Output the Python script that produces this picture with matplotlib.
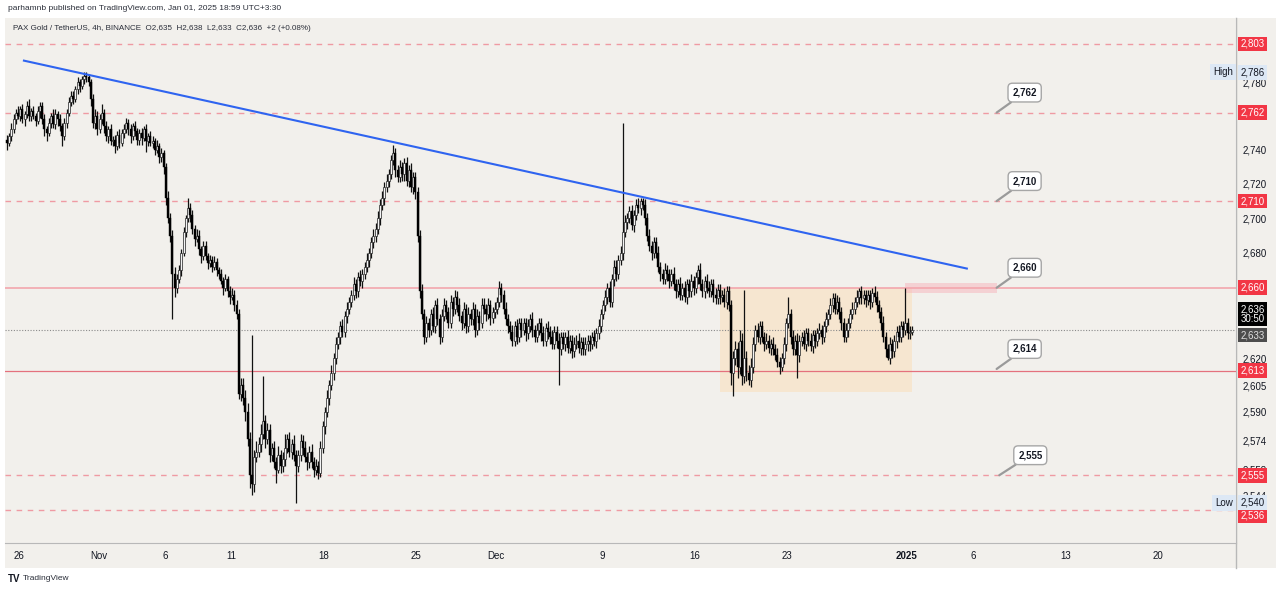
import matplotlib
matplotlib.use("Agg")
import matplotlib.pyplot as plt
import numpy as np
from matplotlib.patches import Rectangle
from matplotlib.ticker import NullLocator, FixedLocator, FuncFormatter

plt.rcParams["font.family"] = ["Liberation Sans", "DejaVu Sans"]

# 4h PAXG/USDT closes, Oct 25 2024 00:00 -> Jan 1 2025 12:00 (one row per day)
first_open = 2746
closes = [
    2744, 2748, 2752, 2758, 2762, 2760,
    2764, 2758, 2761, 2766, 2760, 2763,
    2760, 2757, 2763, 2766, 2758, 2752,
    2750, 2756, 2760, 2755, 2761, 2758,
    2754, 2748, 2756, 2762, 2768, 2772,
    2770, 2776, 2780, 2778, 2782, 2784,
    2783, 2780, 2770, 2756, 2760, 2752,
    2758, 2762, 2754, 2748, 2752, 2745,
    2746, 2742, 2749, 2744, 2750, 2752,
    2756, 2752, 2748, 2754, 2751, 2746,
    2750, 2747, 2752, 2745, 2748, 2744,
    2745, 2740, 2742, 2736, 2738, 2730,
    2712, 2700, 2690, 2668, 2660, 2665,
    2670, 2680, 2692, 2700, 2706, 2702,
    2694, 2688, 2690, 2682, 2678, 2684,
    2678, 2674, 2676, 2672, 2675, 2670,
    2668, 2664, 2660, 2665, 2658, 2655,
    2656, 2650, 2645, 2600, 2605, 2598,
    2590, 2575, 2555, 2550, 2565, 2568,
    2572, 2578, 2585, 2575, 2580, 2566,
    2570, 2562, 2558, 2566, 2560, 2564,
    2570, 2575, 2568, 2572, 2566, 2560,
    2566, 2574, 2570, 2565, 2562, 2568,
    2562, 2558, 2560, 2556, 2570, 2582,
    2590, 2598, 2605, 2612, 2620, 2628,
    2632, 2638, 2635, 2644, 2648, 2652,
    2656, 2662, 2658, 2666, 2664, 2668,
    2672, 2676, 2680, 2686, 2690, 2694,
    2700, 2708, 2712, 2718, 2722, 2726,
    2734, 2738, 2728, 2724, 2730, 2726,
    2732, 2722, 2728, 2718, 2724, 2715,
    2690, 2658, 2645, 2632, 2640, 2636,
    2645, 2638, 2650, 2642, 2632, 2644,
    2650, 2646, 2640, 2652, 2648, 2655,
    2650, 2644, 2640, 2648, 2638, 2645,
    2642, 2648, 2636, 2644, 2640, 2650,
    2648, 2645, 2650, 2643, 2646, 2648,
    2652, 2660, 2656, 2648, 2642, 2638,
    2635, 2630, 2638, 2632, 2640, 2636,
    2640, 2634, 2638, 2642, 2636, 2632,
    2636, 2640, 2634, 2630, 2637, 2635,
    2632, 2628, 2635, 2630, 2625, 2632,
    2628, 2632, 2626, 2630, 2624, 2628,
    2630, 2626, 2629, 2625, 2628, 2630,
    2628, 2632, 2630, 2634, 2638, 2645,
    2650, 2655, 2660, 2652, 2665, 2672,
    2668, 2676, 2680, 2692, 2698, 2700,
    2704, 2696, 2702, 2708, 2706, 2710,
    2708, 2700, 2690, 2684, 2680, 2686,
    2680, 2672, 2668, 2665, 2670, 2668,
    2664, 2668, 2662, 2658, 2662, 2656,
    2660, 2655, 2662, 2658, 2664, 2660,
    2666, 2670, 2662, 2658, 2664, 2660,
    2658, 2662, 2656, 2654, 2659, 2655,
    2656, 2652, 2658, 2650, 2612, 2620,
    2625, 2615, 2630, 2610, 2620, 2612,
    2608, 2615, 2628, 2636, 2632, 2638,
    2632, 2628, 2630, 2626, 2628, 2625,
    2622, 2618, 2615, 2620, 2628, 2640,
    2645, 2632, 2625, 2630, 2622, 2630,
    2632, 2628, 2634, 2630, 2627, 2633,
    2630, 2634, 2636, 2632, 2638, 2642,
    2645, 2650, 2654, 2648, 2652, 2646,
    2640, 2632, 2636, 2640, 2645, 2648,
    2652, 2655, 2658, 2654, 2656, 2653,
    2656, 2652, 2657, 2655, 2650, 2646,
    2640, 2632, 2625, 2620, 2628, 2624,
    2630, 2635, 2632, 2638, 2636, 2640,
    2634, 2635, 2636,
]
# wick sizes above max(open, close) and below min(open, close)
wick_up = [
    3, 2, 4, 3, 2, 4,  2, 3, 2, 3, 4, 2,  3, 2, 3, 2, 2, 3,  2, 3, 2, 4, 3, 2,
    3, 2, 3, 2, 3, 3,  3, 2, 3, 2, 2, 2,  2, 2, 2, 3, 4, 3,  3, 5, 2, 3, 2, 3,
    2, 3, 2, 3, 2, 3,  3, 2, 3, 2, 3, 2,  2, 3, 2, 3, 2, 3,  3, 2, 4, 2, 3, 2,
    2, 4, 3, 3, 4, 3,  3, 2, 3, 2, 6, 3,  3, 2, 4, 3, 2, 3,  3, 2, 3, 2, 3, 2,
    2, 3, 2, 3, 2, 3,  4, 3, 3, 3, 4, 4,  4, 5, 4, 78, 4, 6,  4, 5, 25, 3, 4, 3,
    3, 4, 3, 5, 3, 4,  8, 3, 4, 3, 5, 3,  3, 4, 3, 4, 3, 3,  4, 3, 4, 3, 4, 3,
    3, 4, 3, 4, 3, 4,  3, 3, 4, 3, 4, 3,  3, 4, 3, 3, 4, 3,  3, 4, 3, 3, 4, 3,
    4, 3, 4, 3, 4, 3,  3, 5, 3, 3, 4, 3,  3, 4, 3, 4, 3, 3,  3, 3, 4, 3, 4, 3,
    3, 4, 3, 4, 3, 4,  4, 3, 3, 4, 3, 4,  3, 4, 3, 4, 3, 4,  3, 4, 3, 4, 3, 4,
    4, 3, 4, 3, 3, 4,  3, 4, 3, 3, 4, 3,  3, 4, 3, 4, 3, 3,  3, 3, 4, 3, 4, 3,
    4, 3, 3, 4, 3, 4,  3, 4, 3, 3, 4, 3,  3, 3, 4, 3, 3, 4,  3, 4, 3, 3, 4, 3,
    3, 3, 4, 3, 4, 3,  3, 4, 3, 4, 3, 4,  4, 3, 4, 64, 4, 3,  3, 4, 3, 3, 4, 2,
    2, 3, 3, 4, 3, 3,  3, 4, 3, 3, 4, 3,  3, 3, 4, 3, 3, 4,  3, 4, 3, 3, 4, 3,
    3, 3, 4, 3, 3, 4,  4, 3, 3, 4, 3, 3,  3, 4, 3, 3, 3, 4,  5, 4, 6, 4, 39, 4,
    4, 5, 4, 3, 4, 3,  3, 3, 4, 3, 3, 4,  3, 4, 3, 3, 4, 3,  10, 3, 4, 3, 4, 3,
    3, 4, 3, 3, 4, 3,  3, 3, 4, 3, 3, 4,  3, 4, 3, 3, 4, 3,  3, 3, 4, 3, 3, 4,
    3, 4, 2, 3, 3, 3,  3, 3, 3, 4, 3, 3,  3, 4, 3, 3, 4, 3,  3, 3, 4, 3, 3, 20,
    3, 3, 2,
]
wick_dn = [
    4, 2, 3, 2, 3, 2,  3, 2, 4, 2, 3, 3,  2, 3, 2, 4, 3, 4,  5, 2, 3, 2, 3, 4,
    3, 6, 2, 3, 2, 2,  3, 2, 3, 4, 2, 3,  3, 2, 4, 3, 4, 3,  2, 3, 4, 3, 4, 2,
    3, 4, 2, 3, 2, 3,  2, 3, 4, 2, 3, 3,  3, 4, 2, 6, 3, 2,  3, 3, 2, 4, 3, 4,
    4, 3, 4, 26, 5, 3,  2, 3, 2, 3, 2, 4,  3, 4, 2, 3, 4, 2,  2, 3, 2, 3, 2, 3,
    3, 2, 4, 2, 3, 4,  2, 3, 3, 3, 4, 4,  5, 4, 7, 6, 4, 3,  3, 4, 3, 5, 3, 4,
    3, 3, 7, 2, 4, 3,  4, 3, 3, 4, 3, 20,  3, 3, 4, 3, 4, 3,  3, 4, 3, 3, 2, 3,
    4, 3, 4, 3, 4, 3,  3, 4, 3, 3, 4, 3,  3, 3, 4, 3, 3, 4,  3, 3, 4, 3, 3, 4,
    3, 4, 3, 4, 3, 4,  3, 3, 4, 3, 3, 4,  4, 3, 4, 3, 4, 4,  4, 4, 3, 4, 3, 4,
    3, 3, 4, 3, 4, 3,  3, 4, 3, 3, 4, 3,  4, 3, 4, 3, 4, 3,  3, 3, 4, 3, 4, 3,
    3, 4, 3, 4, 3, 3,  3, 3, 4, 3, 3, 4,  4, 3, 3, 4, 3, 4,  3, 4, 3, 3, 4, 3,
    3, 3, 4, 3, 3, 4,  4, 3, 3, 4, 20, 3,  3, 4, 3, 3, 4, 3,  3, 3, 4, 3, 3, 4,
    4, 3, 3, 4, 3, 3,  3, 3, 4, 3, 3, 4,  4, 3, 3, 4, 3, 4,  3, 3, 4, 3, 3, 4,
    3, 4, 3, 3, 4, 3,  3, 3, 4, 3, 3, 4,  4, 3, 3, 4, 3, 3,  3, 3, 4, 3, 3, 4,
    3, 4, 3, 3, 4, 3,  3, 3, 4, 3, 3, 4,  3, 3, 4, 3, 7, 13,  4, 6, 4, 5, 4, 5,
    3, 4, 3, 4, 3, 4,  3, 4, 3, 3, 4, 3,  3, 3, 4, 2, 3, 4,  3, 4, 3, 3, 13, 4,
    3, 3, 4, 3, 3, 4,  4, 3, 3, 4, 3, 3,  3, 3, 4, 3, 3, 4,  4, 3, 3, 4, 3, 3,
    3, 3, 4, 3, 3, 4,  3, 4, 3, 3, 4, 3,  4, 3, 4, 1, 3, 4,  3, 4, 3, 3, 4, 3,
    3, 3, 2,
]

tick_days = [1, 7, 12, 17, 24, 31, 37, 45, 52, 59, 68, 73, 80, 87]
tick_labels = ["26", "Nov", "6", "11", "18", "25", "Dec", "9", "16", "23", "2025", "6", "13", "20"]

axis_prices = [2780, 2740, 2720, 2700, 2680, 2620, 2605, 2590, 2574, 2558, 2544]
dashed_levels = [2803, 2762, 2710, 2555, 2536]
solid_levels = [2660, 2613]
red_labels = [2803, 2762, 2710, 2660, 2613, 2555, 2536]
callouts = [2762, 2710, 2660, 2614, 2555]
high_price, low_price = 2786, 2540
last_price = 2636

# trendline (day, price) endpoints
trend_days = [1.37, 72.55]
trend_prices = [2793, 2671]
# consolidation range and resistance zone
range_days, range_prices = [53.9, 68.4], [2601, 2660]
zone_days, zone_prices = [67.9, 74.8], [2657, 2663]

BG = "#f2f0ec"
W, H = 1280, 592


def px_price(y):
    # pixel row -> price on this chart's log scale
    return 2803 * np.exp(-(y - 44) / 4655)


opens = np.array([first_open] + closes[:-1], dtype=float)
closes_a = np.array(closes, dtype=float)
highs = np.maximum(opens, closes_a) + np.array(wick_up)
lows = np.minimum(opens, closes_a) - np.array(wick_dn)
x = np.arange(len(closes)) / 6 + 1 / 12

fig = plt.figure(figsize=(W / 100, H / 100), dpi=100, facecolor="white")
fig.patches.append(Rectangle((5 / W, 1 - 568 / H), 1271 / W, 550 / H,
                             transform=fig.transFigure, facecolor=BG, edgecolor="none", zorder=-5))
ax = fig.add_axes([5 / W, 1 - 543 / H, 1231 / W, 525 / H], facecolor=BG)
ax.set_zorder(1)
ax.set_yscale("log")
ax.set_ylim(px_price(543), px_price(18))
ax.set_xlim(-0.06, 92.87)

# ranges
ax.add_patch(Rectangle((range_days[0], range_prices[0]), range_days[1] - range_days[0],
                       range_prices[1] - range_prices[0], facecolor="#f6e6d0", edgecolor="none", zorder=1))
ax.add_patch(Rectangle((zone_days[0], zone_prices[0]), zone_days[1] - zone_days[0],
                       zone_prices[1] - zone_prices[0], facecolor="#f7b4bb", alpha=0.5,
                       edgecolor="none", zorder=1))

# levels
for lv in dashed_levels:
    ax.axhline(lv, color="#ef9aa3", lw=1, dashes=(4, 4), zorder=2)
ax.axhline(solid_levels[0], color="#f3a6ad", lw=1.2, zorder=2)
ax.axhline(solid_levels[1], color="#e4717d", lw=0.9, zorder=2)
ax.axhline(last_price, color="#8a8a8a", lw=0.8, ls=(0, (1, 1.5)), zorder=2)

# candles
up = closes_a >= opens
ax.vlines(x, lows, highs, color="#111111", lw=0.9, zorder=3)
body_lo = np.minimum(opens, closes_a)
body_h = np.maximum(np.abs(closes_a - opens), 0.5)
ax.bar(x[up], body_h[up], bottom=body_lo[up], width=0.15, color="#f4f4f4",
       edgecolor="#222222", linewidth=0.5, zorder=4)
ax.bar(x[~up], body_h[~up], bottom=body_lo[~up], width=0.15, color="#000000",
       edgecolor="#000000", linewidth=0.3, zorder=4)

# trendline
ax.plot(trend_days, trend_prices, color="#2f64f0", lw=1.5, zorder=5)

# callouts
for lv in callouts:
    off = (28, 20) if lv != 2555 else (31, 20)
    ax.annotate(f"{lv:,}", xy=(74.8 if lv != 2555 else 75.0, lv), xytext=off,
                textcoords="offset pixels", ha="center", va="center", fontsize=7,
                fontweight="bold", color="#131722", zorder=8,
                bbox=dict(boxstyle="round,pad=0.45", fc="white", ec="#a6a6a6", lw=1),
                arrowprops=dict(arrowstyle="-", color="#9a9a9a", lw=1.6, shrinkA=0, shrinkB=0))

# axes styling
for side in ["left", "top"]:
    ax.spines[side].set_visible(False)
ax.spines["right"].set_color("#b8b8b8")
ax.spines["bottom"].set_color("#b8b8b8")
ax.yaxis.tick_right()
ax.yaxis.set_major_locator(FixedLocator(axis_prices))
ax.yaxis.set_minor_locator(NullLocator())
ax.yaxis.set_major_formatter(FuncFormatter(lambda v, p: f"{int(round(v)):,}"))
ax.tick_params(axis="y", length=0, pad=5, labelsize=7, labelcolor="#131722")
ax.set_xticks(tick_days)
ax.set_xticklabels(tick_labels)
ax.tick_params(axis="x", length=0, pad=6, labelsize=7, labelcolor="#131722")
for lab in ax.get_xticklabels():
    if lab.get_text() == "2025":
        lab.set_fontweight("bold")
fig.add_artist(plt.Line2D([1236 / W, 1236 / W], [1 - 568 / H, 1 - 18 / H],
                          color="#b8b8b8", lw=1, zorder=-1))

# price-scale labels (2,536 sits just below its line, pushed down by the Low tag)
yt = ax.get_yaxis_transform()
for lv in red_labels:
    ypos = px_price(516) if lv == 2536 else lv
    ax.text(1.0035, ypos, f"{lv:,}", transform=yt, ha="left", va="center", fontsize=7,
            color="white", clip_on=False, zorder=10,
            bbox=dict(boxstyle="square,pad=0.25", fc="#f23645", ec="none"))
for lv, name in [(high_price, "High"), (low_price, "Low")]:
    ax.text(1.0035, lv, f"{lv:,}", transform=yt, ha="left", va="center", fontsize=7,
            color="#131722", clip_on=False, zorder=10,
            bbox=dict(boxstyle="square,pad=0.25", fc="#dde8f5", ec="none"))
    ax.text(0.9975, lv, name, transform=yt, ha="right", va="center", fontsize=7,
            color="#131722", clip_on=False, zorder=10,
            bbox=dict(boxstyle="square,pad=0.3", fc="#dde8f5", ec="none"))
ax.text(1.0035, px_price(314), "2,636\n30:50", transform=yt, ha="left", va="center",
        fontsize=7, color="white", linespacing=1.0, clip_on=False, zorder=10,
        bbox=dict(boxstyle="square,pad=0.25", fc="#000000", ec="none"))
ax.text(1.0035, px_price(335), "2,633", transform=yt, ha="left", va="center", fontsize=7,
        color="#e0e0e0", clip_on=False, zorder=10,
        bbox=dict(boxstyle="square,pad=0.25", fc="#4d4d4d", ec="none"))

# header, legend, footer
fig.text(8 / W, 1 - 9 / H, "parhamnb published on TradingView.com, Jan 01, 2025 18:59 UTC+3:30",
         fontsize=6, color="#2a2e39", va="center")
fig.text(13 / W, 1 - 29 / H,
         "PAX Gold / TetherUS, 4h, BINANCE  O2,635  H2,638  L2,633  C2,636  +2 (+0.08%)",
         fontsize=5.8, color="#2a2e39", va="center")
fig.text(8 / W, 1 - 579 / H, "TV", fontsize=7, fontweight="heavy", color="#131722", va="center")
fig.text(23 / W, 1 - 579 / H, "TradingView", fontsize=6, color="#2a2e39", va="center")

fig.savefig("out.png", dpi=100, facecolor="white")
